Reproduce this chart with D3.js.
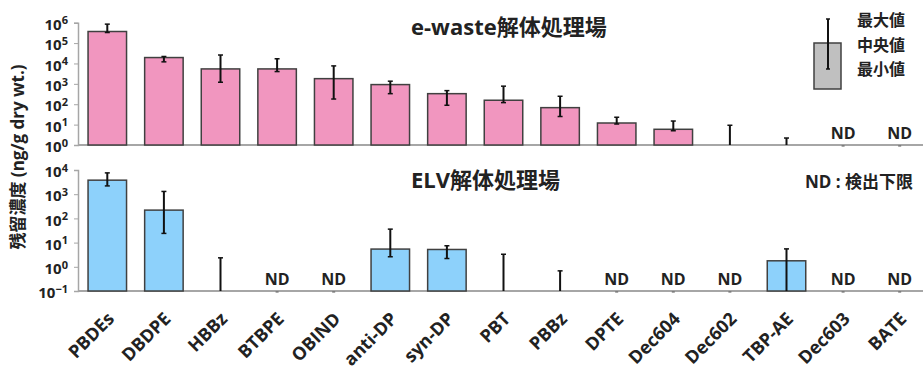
<!DOCTYPE html>
<html>
<head>
<meta charset="utf-8">
<script src="https://cdn.jsdelivr.net/npm/d3@7"></script>
<style>
  body { margin: 0; background: #fff; }
  text { font-family: "Open Sans", "Noto Sans CJK JP", sans-serif; font-weight: bold; fill: #222; }
</style>
</head>
<body>
<div id="chart"></div>
<script>
// categories and values (median, min, max); null = ND
var categories = ["PBDEs", "DBDPE", "HBBz", "BTBPE", "OBIND", "anti-DP", "syn-DP", "PBT",
                  "PBBz", "DPTE", "Dec604", "Dec602", "TBP-AE", "Dec603", "BATE"];

var ewasteMedian = [3.7e5, 1.95e4, 5400, 5400, 1800, 920, 330, 157, 68, 12, 5.9, 0.5, 0.4, null, null];
var ewasteMin    = [3.3e5, 1.2e4, 1200, 4000, 180, 330, 89, 120, 25, 10.7, 5, 0.3, 0.2, null, null];
var ewasteMax    = [8.5e5, 2.2e4, 2.6e4, 1.7e4, 7600, 1350, 465, 770, 246, 23, 15, 9.3, 2.2, null, null];

var elvMedian = [3800, 220, 0.05, null, null, 5.4, 5.2, 0.05, 0.05, null, null, null, 1.77, null, null];
var elvMin    = [2200, 24, 0.03, null, null, 2.6, 2.2, 0.03, 0.03, null, null, null, 0.05, null, null];
var elvMax    = [7600, 1300, 2.35, null, null, 36, 7.4, 3.3, 0.68, null, null, null, 5.5, null, null];

var ewasteTicks = [1, 10, 100, 1e3, 1e4, 1e5, 1e6];
var elvTicks = [0.1, 1, 10, 100, 1e3, 1e4];

var width = 923, height = 372;
var svg = d3.select("#chart").append("svg")
  .attr("width", width)
  .attr("height", height);

var x = d3.scaleBand().domain(categories).range([79, 928]).paddingInner(0.32).paddingOuter(0.16);

function drawPanel(opts) {
  var y = d3.scaleLog().domain(opts.domain).range(opts.range).clamp(true);
  var base = opts.range[0];

  // baseline
  svg.append("line")
    .attr("x1", 78).attr("x2", 923)
    .attr("y1", base).attr("y2", base)
    .attr("stroke", "#a6a6a6").attr("stroke-width", 2);

  var ax = svg.append("g")
    .attr("transform", "translate(78,0)")
    .call(d3.axisLeft(y).tickValues(opts.ticks).tickSize(4).tickPadding(6).tickFormat(""));
  ax.select(".domain").attr("stroke", "#a6a6a6").attr("stroke-width", 1.5);
  ax.selectAll(".tick line").attr("stroke", "#a6a6a6");
  ax.selectAll(".tick").each(function(d) {
    var t = d3.select(this).append("text")
      .attr("x", -10).attr("dy", "0.45em")
      .attr("text-anchor", "end")
      .style("font-size", "15px");
    t.append("tspan").text("10");
    t.append("tspan").attr("dy", "-0.5em").style("font-size", "11px")
      .text(Math.round(Math.log10(d)) < 0 ? "\u22121" : Math.round(Math.log10(d)));
  });
  ax.selectAll(".tick text").attr("fill", "#222");

  var g = svg.append("g");
  categories.forEach(function(c, i) {
    var cx = x(c) + x.bandwidth() / 2;
    var med = opts.median[i];
    if (med === null) {
      g.append("text")
        .attr("x", cx).attr("y", base - 6)
        .attr("text-anchor", "middle")
        .style("font-size", "16px")
        .text("ND");
      g.append("line")
        .attr("x1", cx - 1.5).attr("x2", cx + 1.5)
        .attr("y1", base + 1).attr("y2", base + 1)
        .attr("stroke", "#555").attr("stroke-width", 1);
      return;
    }
    var top = y(med);
    if (base - top > 0.5) {
      g.append("rect")
        .attr("x", x(c)).attr("y", top)
        .attr("width", x.bandwidth()).attr("height", base - top)
        .attr("fill", opts.color)
        .attr("stroke", "#404040").attr("stroke-width", 1.5);
    }
    var y1 = y(opts.max[i]), y0 = y(opts.min[i]);
    g.append("line")
      .attr("x1", cx).attr("x2", cx).attr("y1", y1).attr("y2", y0)
      .attr("stroke", "#111").attr("stroke-width", 2);
    g.append("line")
      .attr("x1", cx - 2.5).attr("x2", cx + 2.5).attr("y1", y1).attr("y2", y1)
      .attr("stroke", "#111").attr("stroke-width", 1.5);
    if (y0 < base - 1) {
      g.append("line")
        .attr("x1", cx - 2.5).attr("x2", cx + 2.5).attr("y1", y0).attr("y2", y0)
        .attr("stroke", "#111").attr("stroke-width", 1.5);
    }
  });

  svg.append("text")
    .attr("x", 411).attr("y", opts.titleY)
    .style("font-size", opts.titleSize)
    .text(opts.title);
}

drawPanel({
  domain: [1, 1e6], range: [145, 22.7], ticks: ewasteTicks,
  median: ewasteMedian, min: ewasteMin, max: ewasteMax,
  color: "#f196bf", title: "e-waste解体処理場", titleY: 35, titleSize: "22px"
});

drawPanel({
  domain: [0.1, 1e4], range: [291, 170], ticks: elvTicks,
  median: elvMedian, min: elvMin, max: elvMax,
  color: "#8dd1fb", title: "ELV解体処理場", titleY: 188, titleSize: "22px"
});

// x labels
categories.forEach(function(c) {
  var cx = x(c) + x.bandwidth() / 2;
  svg.append("text")
    .attr("transform", "translate(" + (cx + 8) + ",320) rotate(-45)")
    .attr("text-anchor", "end")
    .style("font-size", "18px")
    .text(c);
});

// y label
svg.append("text")
  .attr("transform", "translate(24,157) rotate(-90)")
  .attr("text-anchor", "middle")
  .style("font-size", "17px")
  .text("残留濃度 (ng/g dry wt.)");

// legend
var leg = svg.append("g");
leg.append("rect")
  .attr("x", 814).attr("y", 43).attr("width", 27).attr("height", 46)
  .attr("fill", "#c0c0c0").attr("stroke", "#404040").attr("stroke-width", 1.5);
leg.append("line")
  .attr("x1", 828).attr("x2", 828).attr("y1", 19).attr("y2", 69)
  .attr("stroke", "#111").attr("stroke-width", 2);
[19, 69].forEach(function(v) {
  leg.append("line")
    .attr("x1", 826).attr("x2", 830).attr("y1", v).attr("y2", v)
    .attr("stroke", "#111").attr("stroke-width", 1.5);
});
["最大値", "中央値", "最小値"].forEach(function(t, i) {
  leg.append("text")
    .attr("x", 857).attr("y", 26 + i * 24.5)
    .style("font-size", "16px")
    .text(t);
});

svg.append("text")
  .attr("x", 805).attr("y", 188)
  .style("font-size", "17px")
  .text("ND : 検出下限");
</script>
</body>
</html>
